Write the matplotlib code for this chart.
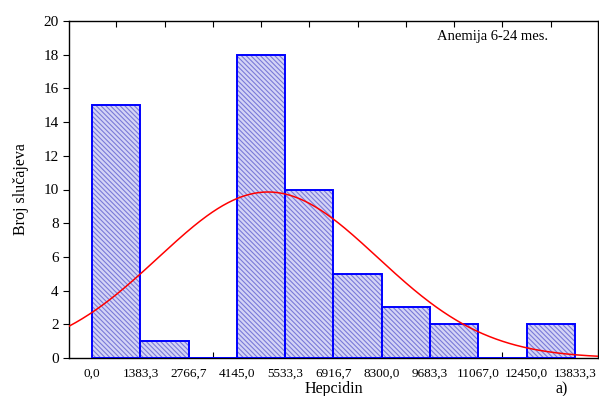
import numpy as np
import matplotlib
matplotlib.use("Agg")
import matplotlib.pyplot as plt

# histogram counts per bin (Hepcidin)
counts = [15, 1, 0, 18, 10, 5, 3, 2, 0, 2]
bin_width = 1383.33
edge_labels = ["0,0", "1383,3", "2766,7", "4145,0", "5533,3", "6916,7",
               "8300,0", "9683,3", "11067,0", "12450,0", "13833,3"]
# fitted normal curve parameters
mean_val = 5040.0
sd_val = 3137.0

plt.rcParams['font.family'] = ['Liberation Serif', 'DejaVu Serif']
plt.rcParams['hatch.linewidth'] = 0.8

fig = plt.figure(figsize=(5.99, 3.96), dpi=100)
ax = fig.add_axes([69/599, 38/396, 529/599, 337/396])

edges = np.arange(len(counts) + 1) * bin_width
lefts = edges[:-1]

# hatched fill first, then the blue outlines on top
ax.bar(lefts, counts, width=bin_width, align='edge', facecolor='#d4d4f6',
       edgecolor='#7a7ad8', hatch='\\\\\\\\\\\\\\', linewidth=0, zorder=2)
ax.bar(lefts, counts, width=bin_width, align='edge', facecolor='none',
       edgecolor='#0000ff', linewidth=1.4, zorder=3)

xmin = -0.48 * bin_width
xmax = edges[-1] + 0.48 * bin_width
xs = np.linspace(xmin, xmax, 400)
n_total = sum(counts)
ys = n_total * bin_width / (sd_val * np.sqrt(2 * np.pi)) * np.exp(-0.5 * ((xs - mean_val) / sd_val) ** 2)
ax.plot(xs, ys, color='red', linewidth=1.1, zorder=4)

ax.set_xlim(xmin, xmax)
ax.set_ylim(0, 20)
ax.set_yticks(range(0, 21, 2))
ax.set_xticks(edges)
ax.set_xticklabels(edge_labels, fontsize=9.5)
ax.set_xticks(lefts + bin_width / 2, minor=True)
ax.tick_params(axis='x', which='major', length=0, pad=7)
ax.tick_params(axis='x', which='minor', direction='in', length=4, top=True, width=0.8)
ax.tick_params(axis='y', which='major', direction='out', length=4, labelsize=11, width=0.8)
for s in ax.spines.values():
    s.set_linewidth(1.0)

ax.set_ylabel('Broj slučajeva', fontsize=11.5, labelpad=10)
ax.set_xlabel('Hepcidin', fontsize=11.5, labelpad=1)
ax.text(0.80, 0.955, 'Anemija 6-24 mes.', transform=ax.transAxes, ha='center',
        va='center', fontsize=10.5)
fig.text(562/599, 1 - 389/396, 'a)', ha='center', va='center', fontsize=11.5)

fig.savefig('out.png', dpi=100)
